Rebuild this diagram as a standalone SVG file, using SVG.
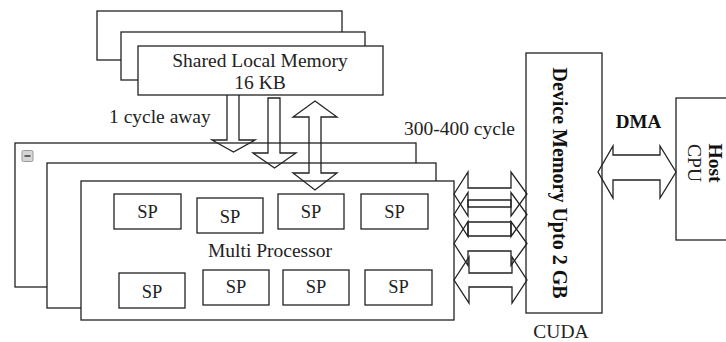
<svg xmlns="http://www.w3.org/2000/svg" width="726" height="342" viewBox="0 0 726 342">
<style>
.box{fill:#fff;stroke:#222;stroke-width:1.3}
.arr{fill:none;stroke:#222;stroke-width:1.3;stroke-linejoin:miter}
.t{font-family:"Liberation Serif","Times New Roman",serif;font-size:19.5px;fill:#222}
.sp{font-family:"Liberation Serif","Times New Roman",serif;font-size:18.5px;fill:#222;text-anchor:middle}
.b{font-family:"Liberation Serif","Times New Roman",serif;font-weight:bold;fill:#111}
</style>
<rect width="726" height="342" fill="#fff"/>

<g id="shared-memory">
  <rect class="box" x="97" y="11" width="245" height="49"/>
  <rect class="box" x="121" y="32" width="244" height="48"/>
  <rect class="box" x="138" y="46" width="245" height="49"/>
  <text class="t" x="260" y="67" text-anchor="middle">Shared Local Memory</text>
  <text class="t" x="260" y="89" text-anchor="middle">16 KB</text>
</g>

<g id="multi-processor">
  <rect class="box" x="15" y="143" width="401" height="144"/>
  <g id="collapse-icon">
    <rect x="22" y="150.5" width="11" height="11" rx="1.5" fill="#d6d6d6" stroke="#9a9a9a" stroke-width="1"/>
    <line x1="24.5" y1="156" x2="30.5" y2="156" stroke="#444" stroke-width="1.6"/>
  </g>
  <rect class="box" x="47" y="163" width="389" height="145"/>
  <rect class="box" x="81" y="181" width="373" height="139"/>
  <text class="t" x="270" y="257" text-anchor="middle">Multi Processor</text>
</g>

<g id="sp-1"><rect class="box" x="114" y="194" width="67" height="35"/><text class="sp" x="147.5" y="218">SP</text></g>
<g id="sp-2"><rect class="box" x="197" y="198" width="66" height="35"/><text class="sp" x="230" y="223">SP</text></g>
<g id="sp-3"><rect class="box" x="278" y="194" width="66" height="35"/><text class="sp" x="311" y="218">SP</text></g>
<g id="sp-4"><rect class="box" x="361" y="194" width="67" height="35"/><text class="sp" x="394.5" y="218">SP</text></g>
<g id="sp-5"><rect class="box" x="119" y="273" width="66" height="35"/><text class="sp" x="152" y="298">SP</text></g>
<g id="sp-6"><rect class="box" x="203" y="270" width="66" height="35"/><text class="sp" x="236" y="293">SP</text></g>
<g id="sp-7"><rect class="box" x="283" y="270" width="66" height="35"/><text class="sp" x="316" y="293">SP</text></g>
<g id="sp-8"><rect class="box" x="365" y="270" width="67" height="35"/><text class="sp" x="398.5" y="293">SP</text></g>

<g id="device-memory">
  <rect class="box" x="526" y="53" width="76" height="260"/>
  <text class="b" font-size="20" text-anchor="middle" transform="translate(553,183) rotate(90)">Device Memory Upto 2 GB</text>
</g>

<g id="host-cpu">
  <rect class="box" x="676" y="98" width="60" height="142"/>
  <text class="b" font-size="19.5" text-anchor="middle" transform="translate(709,163) rotate(90)">Host</text>
  <text class="t" text-anchor="middle" transform="translate(688,163) rotate(90)">CPU</text>
</g>

<g id="connectors">
  <path class="arr" d="M227,95 V140 H212 L233.5,152 L255,140 H239 V95"/>
  <path class="arr" d="M268,98 V153 H253 L274.5,168 L296,153 H280 V98 Z"/>
  <path class="arr" d="M315,101 L337,117 H321 V173 H337 L315,190 L293,173 H309 V117 H293 Z"/>
  <path class="arr" d="M454,194 L468,172 V188 H511 V172 L527,194 L511,216 V200 H468 V216 Z"/>
  <path class="arr" d="M454,214.5 L468,192.5 V207 H511 V192.5 L527,214.5 L511,236.5 V222 H468 V236.5 Z"/>
  <path class="arr" d="M454,243.5 L468,221.5 V236 H511 V221.5 L527,243.5 L511,265.5 V251 H468 V265.5 Z"/>
  <path class="arr" d="M454,280 L469,257 V273 H512 V257 L527,280 L512,303 V287 H469 V303 Z"/>
  <path class="arr" d="M598,172 L613,146 V155 H660 V146 L676,172 L660,198 V180 H613 V198 Z"/>
</g>

<g id="labels">
  <text class="t" x="109" y="123">1 cycle away</text>
  <text class="t" x="404" y="135">300-400 cycle</text>
  <text class="b" font-size="19" x="638.5" y="128" text-anchor="middle">DMA</text>
  <text class="t" x="561" y="338" text-anchor="middle">CUDA</text>
</g>
</svg>
